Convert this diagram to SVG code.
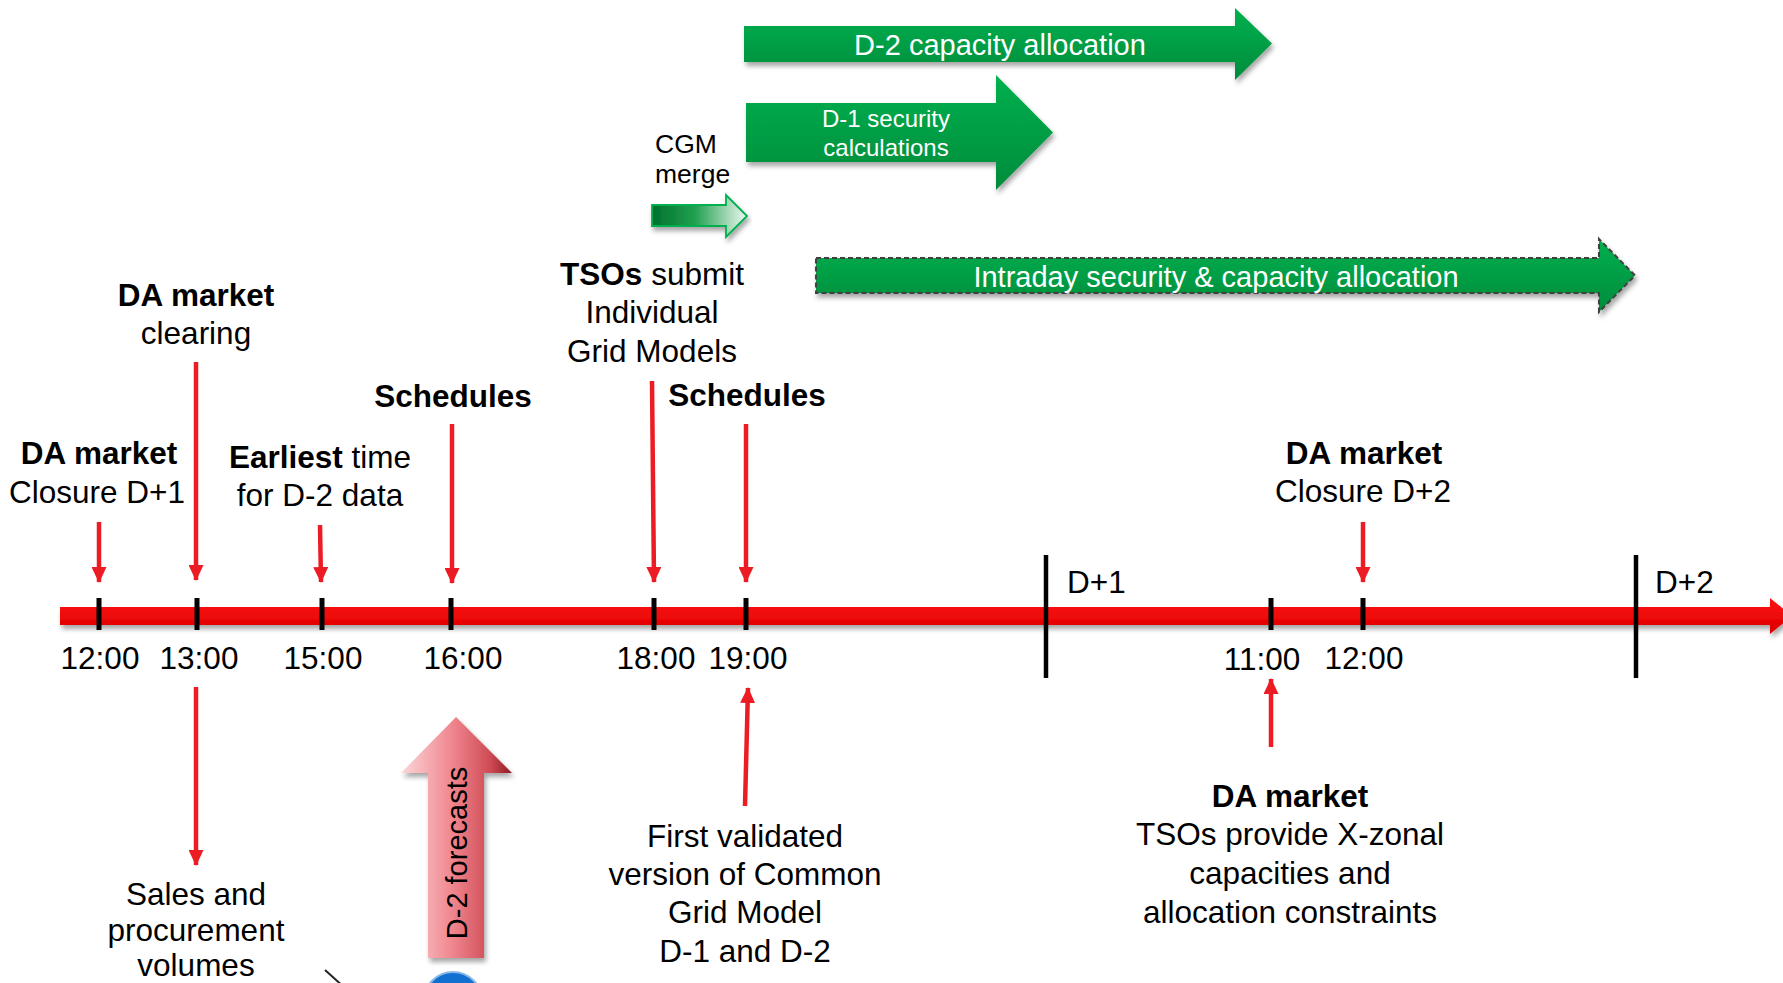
<svg xmlns="http://www.w3.org/2000/svg" width="1783" height="983" viewBox="0 0 1783 983">
<defs>
<style>
text{font-family:"Liberation Sans",Arial,sans-serif;fill:#000}
.t{font-size:31.5px;text-anchor:middle}
.b{font-weight:bold}
.w{fill:#fff;font-size:29px;text-anchor:middle}
.ra{stroke:#ec1c24;stroke-width:4.5;fill:none}
.tick{stroke:#000;stroke-width:5}
.day{stroke:#000;stroke-width:4.5}
</style>
<linearGradient id="gGreen" x1="0" y1="0" x2="0" y2="1">
<stop offset="0" stop-color="#00b04e"/>
<stop offset="1" stop-color="#008c3c"/>
</linearGradient>
<linearGradient id="gCgm" x1="0" y1="0" x2="1" y2="0">
<stop offset="0" stop-color="#00702c"/>
<stop offset="0.45" stop-color="#20a050"/>
<stop offset="1" stop-color="#eef8f1"/>
</linearGradient>
<linearGradient id="gRedBar" x1="0" y1="0" x2="0" y2="1">
<stop offset="0" stop-color="#ff1010"/>
<stop offset="1" stop-color="#dc0000"/>
</linearGradient>
<linearGradient id="gPink" x1="0" y1="0" x2="1" y2="0">
<stop offset="0" stop-color="#fbd6d9"/>
<stop offset="0.45" stop-color="#f08890"/>
<stop offset="0.8" stop-color="#d04c56"/>
<stop offset="1" stop-color="#8e1a22"/>
</linearGradient>
<filter id="sh" x="-5%" y="-20%" width="110%" height="160%">
<feDropShadow dx="2" dy="4" stdDeviation="2.5" flood-color="#000" flood-opacity="0.35"/>
</filter>
<marker id="ah" viewBox="0 0 16 15" refX="15" refY="7.5" markerWidth="16" markerHeight="15" markerUnits="userSpaceOnUse" orient="auto">
<path d="M0,0 L16,7.5 L0,15 Z" fill="#ec1c24"/>
</marker>
</defs>
<rect width="1783" height="983" fill="#fff"/>

<g id="timeline">
<polygon filter="url(#sh)" fill="url(#gRedBar)" points="60,607 1770,607 1770,598 1792,616 1770,634 1770,625 60,625"/>
<line class="tick" x1="99" y1="598" x2="99" y2="630"/>
<line class="tick" x1="197" y1="598" x2="197" y2="630"/>
<line class="tick" x1="322" y1="598" x2="322" y2="630"/>
<line class="tick" x1="451" y1="598" x2="451" y2="630"/>
<line class="tick" x1="654" y1="598" x2="654" y2="630"/>
<line class="tick" x1="746" y1="598" x2="746" y2="630"/>
<line class="tick" x1="1271" y1="598" x2="1271" y2="630"/>
<line class="tick" x1="1363" y1="598" x2="1363" y2="630"/>
<line class="day" x1="1046" y1="555" x2="1046" y2="678"/>
<line class="day" x1="1636" y1="555" x2="1636" y2="678"/>
<text class="t" x="1067" y="593" style="text-anchor:start">D+1</text>
<text class="t" x="1655" y="593" style="text-anchor:start">D+2</text>
<text class="t" x="100" y="669">12:00</text>
<text class="t" x="199" y="669">13:00</text>
<text class="t" x="323" y="669">15:00</text>
<text class="t" x="463" y="669">16:00</text>
<text class="t" x="656" y="669">18:00</text>
<text class="t" x="748" y="669">19:00</text>
<text class="t" x="1262" y="670">11:00</text>
<text class="t" x="1364" y="669">12:00</text>
</g>

<g id="connectors">
<line class="ra" marker-end="url(#ah)" x1="99" y1="522" x2="99" y2="582"/>
<line class="ra" marker-end="url(#ah)" x1="196" y1="362" x2="196" y2="580"/>
<line class="ra" marker-end="url(#ah)" x1="320" y1="525" x2="321" y2="582"/>
<line class="ra" marker-end="url(#ah)" x1="452" y1="424" x2="452" y2="583"/>
<line class="ra" marker-end="url(#ah)" x1="652" y1="381" x2="654" y2="582"/>
<line class="ra" marker-end="url(#ah)" x1="746" y1="424" x2="746" y2="582"/>
<line class="ra" marker-end="url(#ah)" x1="1363" y1="522" x2="1363" y2="582"/>
<line class="ra" marker-end="url(#ah)" x1="1271" y1="747" x2="1271" y2="679"/>
<line class="ra" marker-end="url(#ah)" x1="745" y1="806" x2="748" y2="688"/>
<line class="ra" marker-end="url(#ah)" x1="196" y1="687" x2="196" y2="865"/>
</g>

<g id="n-da-closure-d1">
<text class="t b" x="99" y="464">DA market</text>
<text class="t" x="97" y="503">Closure D+1</text>
</g>
<g id="n-da-clearing">
<text class="t b" x="196" y="306">DA market</text>
<text class="t" x="196" y="344">clearing</text>
</g>
<g id="n-earliest">
<text class="t" x="320" y="468"><tspan class="b">Earliest</tspan> time</text>
<text class="t" x="320" y="506">for D-2 data</text>
</g>
<g id="n-schedules1">
<text class="t b" x="453" y="407">Schedules</text>
</g>
<g id="n-tsos-submit">
<text class="t" x="652" y="285"><tspan class="b">TSOs</tspan> submit</text>
<text class="t" x="652" y="323">Individual</text>
<text class="t" x="652" y="362">Grid Models</text>
</g>
<g id="n-schedules2">
<text class="t b" x="747" y="406">Schedules</text>
</g>
<g id="n-da-closure-d2">
<text class="t b" x="1364" y="464">DA market</text>
<text class="t" x="1363" y="502">Closure D+2</text>
</g>
<g id="n-sales">
<text class="t" x="196" y="905">Sales and</text>
<text class="t" x="196" y="941">procurement</text>
<text class="t" x="196" y="976">volumes</text>
</g>
<g id="n-first-cgm">
<text class="t" x="745" y="847">First validated</text>
<text class="t" x="745" y="885">version of Common</text>
<text class="t" x="745" y="923">Grid Model</text>
<text class="t" x="745" y="962">D-1 and D-2</text>
</g>
<g id="n-da-xzonal">
<text class="t b" x="1290" y="807">DA market</text>
<text class="t" x="1290" y="845">TSOs provide X-zonal</text>
<text class="t" x="1290" y="884">capacities and</text>
<text class="t" x="1290" y="923">allocation constraints</text>
</g>

<g id="n-d2-capacity">
<polygon filter="url(#sh)" fill="url(#gGreen)" points="744,26 1235,26 1235,8 1272,43.5 1235,80 1235,62 744,62"/>
<text class="w" x="1000" y="55">D-2 capacity allocation</text>
</g>
<g id="n-d1-security">
<polygon filter="url(#sh)" fill="url(#gGreen)" points="746,103 996,103 996,75 1053,132.5 996,190 996,162 746,162"/>
<text class="w" x="886" y="127" style="font-size:24px">D-1 security</text>
<text class="w" x="886" y="156" style="font-size:24px">calculations</text>
</g>
<g id="n-cgm-merge">
<polygon filter="url(#sh)" fill="url(#gCgm)" stroke="#00b050" stroke-width="1.8" points="652,205 726,205 726,195 747,216 726,237 726,226 652,226"/>
<text x="655" y="153" style="font-size:26.5px">CGM</text>
<text x="655" y="183" style="font-size:26.5px">merge</text>
</g>
<g id="n-intraday">
<polygon filter="url(#sh)" fill="url(#gGreen)" stroke="#404040" stroke-width="2" stroke-dasharray="5,3" points="816,258 1599,258 1599,239 1635,275.5 1599,312 1599,293 816,293"/>
<text class="w" x="1216" y="287">Intraday security &amp; capacity allocation</text>
</g>
<g id="n-d2-forecasts">
<polygon filter="url(#sh)" fill="url(#gPink)" points="428,958 428,773 401,773 456,717 512,773 484,773 484,958"/>
<text transform="translate(467,853) rotate(-90)" style="font-size:29px;text-anchor:middle">D-2 forecasts</text>
</g>
<g id="n-partial">
<line x1="325" y1="970" x2="345" y2="988" stroke="#222" stroke-width="2"/>
<circle cx="453" cy="1001" r="29" fill="#1170d0" stroke="#8ab8e6" stroke-width="2"/>
</g>
</svg>
